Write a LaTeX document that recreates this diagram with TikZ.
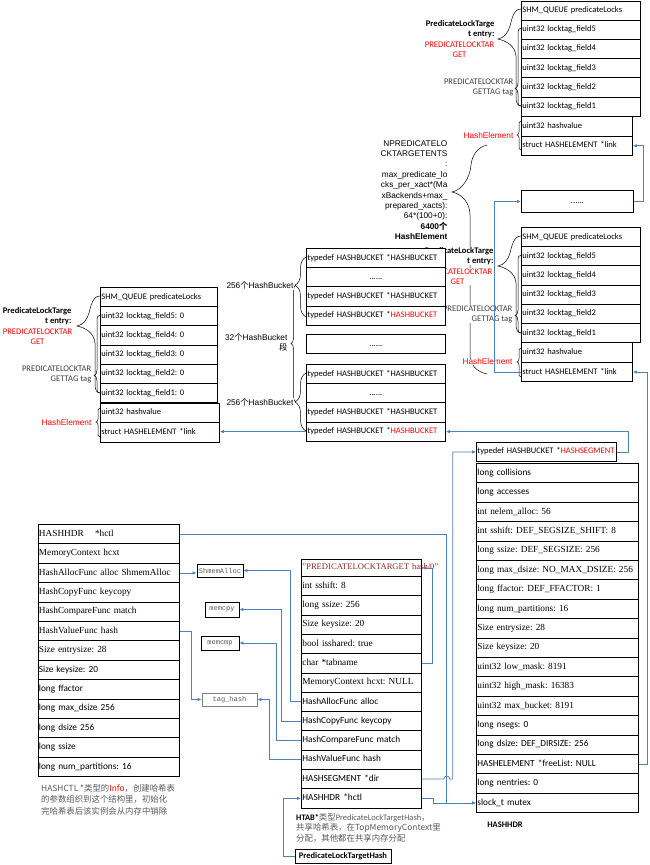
\documentclass[tikz,border=0pt]{standalone}
\usepackage{fontspec}
\setmainfont{Liberation Serif}
\newfontfamily\fcal{Carlito}
\newfontfamily\farial{Liberation Sans}
\newfontfamily\fmono{Liberation Mono}
\newfontfamily\fcjk{Noto Sans CJK SC}
\usetikzlibrary{arrows.meta,decorations.pathreplacing}
\definecolor{lnblue}{RGB}{79,129,189}
\definecolor{darkred}{RGB}{150,40,40}
\definecolor{notegray}{RGB}{90,90,90}
\definecolor{txtgray}{RGB}{64,64,64}
\frenchspacing

% braces beside one PREDICATELOCKTARGET entry, #1 = its top left corner
\newcommand{\entrybraces}[1]{%
  \begin{scope}[shift={#1}]
    \draw[brc] (0,9) .. controls (-7,9) and (-9,18) .. (-11,26)
      .. controls (-13,33) and (-17,38) .. (-23,39)
      .. controls (-14,41) and (-6,46) .. (-5,56) -- (-5,98)
      .. controls (-5,103) and (-3,106) .. (0,106);
    \draw[brc] (0,28) .. controls (-2,28) and (-3,30) .. (-3,34) -- (-3,83)
      .. controls (-3,86) and (-4,88) .. (-6,88.5)
      .. controls (-4,89) and (-3,91) .. (-3,94) -- (-3,102)
      .. controls (-3,105) and (-2,106) .. (0,106);
    \draw[brc] (0,121) .. controls (-2,121) and (-2,123) .. (-2,126) -- (-2,132)
      .. controls (-2,134) and (-3,135) .. (-4,135)
      .. controls (-3,135) and (-2,136) .. (-2,138) -- (-2,145)
      .. controls (-2,148) and (-2,150) .. (0,150);
  \end{scope}}

\begin{document}
\begin{tikzpicture}[x=1pt, y=-1pt,
  cell/.style={draw, fill=white, anchor=north west, inner xsep=1pt, inner ysep=0pt, align=left,
    line width=0.8pt, font=\fcal\fontsize{8.5}{10}\selectfont, text height=6pt, text depth=2pt},
  rowa/.style={cell, text width=117pt, minimum height=19.2pt},
  hsha/.style={cell, text width=109pt, minimum height=19.6pt},
  rowc/.style={cell, text width=115pt, minimum height=19.2pt},
  hshc/.style={cell, text width=117pt, minimum height=19.6pt},
  bkt/.style={cell, text width=137pt, minimum height=19.2pt},
  hdr/.style={cell, text width=160pt, minimum height=19.4pt},
  ctl/.style={cell, text width=139.5pt, minimum height=19.4pt},
  tab/.style={cell, text width=118pt, minimum height=19.3pt},
  tm/.style={font=\fontsize{9.3}{11}\selectfont, text height=6.6pt, text depth=2.2pt},
  cb/.style={font=\fcal\fontsize{9.3}{11}\selectfont, text height=6.6pt, text depth=2.2pt},
  fn/.style={draw, fill=white, inner sep=0pt, line width=0.7pt, text=notegray, font=\fmono\fontsize{7}{8}\selectfont},
  lbl/.style={fill=white, inner sep=0.4pt, font=\fcal\fontsize{8.6}{9.6}\selectfont},
  brc/.style={draw, line width=0.5pt},
  arr/.style={draw=lnblue, line width=0.8pt, -{Latex[length=4pt,width=3.5pt]}}
]
\fill[white, use as bounding box] (0,0) rectangle (650,865);

% braces
\entrybraces{(521,0)}
\entrybraces{(521,227)}
\entrybraces{(100,287)}
\draw[brc, decorate, decoration={brace, amplitude=11pt, aspect=0.53}] (306,317) -- (306,257);
\draw[brc, decorate, decoration={brace, amplitude=11pt, aspect=0.5}] (306,431) -- (306,373);
\draw[brc, decorate, decoration={brace, amplitude=5pt, aspect=0.5}] (296,402) -- (296,285);
\draw[brc] (487,145) .. controls (478,147) and (472,155) .. (471,165)
  .. controls (470,178) and (462,190) .. (452,192)
  .. controls (462,194) and (470,203) .. (470,215) -- (470,355)
  .. controls (470,365) and (477,372) .. (487,374);

% labels
\node[lbl, font=\fcal\bfseries\fontsize{8.6}{9.6}\selectfont, align=right, anchor=east] (ta) at (495,29) {PredicateLockTarge\\t entry:};
\node[lbl, text=red, align=center] (tga) at (459.5,49.5) {PREDICATELOCKTAR\\GET};
\node[lbl, text=txtgray, align=right, anchor=east] (tka) at (514,87.5) {PREDICATELOCKTAR\\GETTAG tag};
\node[lbl, text=red, font=\farial\fontsize{8.3}{10}\selectfont, anchor=east] (hea) at (514,135.5) {HashElement};

\node[lbl, font=\fcal\bfseries\fontsize{8.6}{9.6}\selectfont, align=right, anchor=east] (tb) at (494,256) {PredicateLockTarge\\t entry:};
\node[lbl, text=red, align=center] (tgb) at (457.5,276.5) {PREDICATELOCKTAR\\GET};
\node[lbl, text=txtgray, align=right, anchor=east] (tkb) at (513,314.5) {PREDICATELOCKTAR\\GETTAG tag};
\node[lbl, text=red, font=\farial\fontsize{8.3}{10}\selectfont, anchor=east] (heb) at (513,362) {HashElement};

\node[lbl, font=\fcal\bfseries\fontsize{8.6}{9.6}\selectfont, align=right, anchor=east] (tc) at (72,316) {PredicateLockTarge\\t entry:};
\node[lbl, text=red, align=center] (tgc) at (37.5,336.5) {PREDICATELOCKTAR\\GET};
\node[lbl, text=txtgray, align=right, anchor=east] (tkc) at (92,374.5) {PREDICATELOCKTAR\\GETTAG tag};
\node[lbl, text=red, font=\farial\fontsize{8.3}{10}\selectfont, anchor=east] (hec) at (92,422.5) {HashElement};

\node[lbl, font=\farial\fontsize{8.3}{10.4}\selectfont, align=right, anchor=east] (npred) at (448,190) {NPREDICATELO\\CKTARGETENTS\\:\\max\_predicate\_lo\\cks\_per\_xact*(Ma\\xBackends+max\_\\prepared\_xacts):\\64*(100+0):\\\textbf{6400{\fcjk 个}}\\\textbf{HashElement}};
\node[lbl, font=\farial\fontsize{8.3}{10}\selectfont, anchor=east] (nb1) at (294,285.5) {256{\fcjk 个}HashBucket};
\node[lbl, font=\farial\fontsize{8.3}{10}\selectfont, anchor=east] (nb2) at (294,402.5) {256{\fcjk 个}HashBucket};
\node[lbl, font=\farial\fontsize{8.3}{10.5}\selectfont, align=right, anchor=east] (nseg) at (288,342.5) {32{\fcjk 个}HashBucket\\{\fcjk 段}};

% PREDICATELOCKTARGET entries
\node[rowa] (a1) at (521,0.5) {SHM\_QUEUE predicateLocks};
\node[rowa] (a2) at (521,19.7) {uint32 locktag\_field5};
\node[rowa] (a3) at (521,38.9) {uint32 locktag\_field4};
\node[rowa] (a4) at (521,58.1) {uint32 locktag\_field3};
\node[rowa] (a5) at (521,77.3) {uint32 locktag\_field2};
\node[rowa] (a6) at (521,96.5) {uint32 locktag\_field1};
\node[hsha] (a7) at (521,116) {uint32 hashvalue};
\node[hsha] (a8) at (521,135.6) {struct HASHELEMENT *link};

\node[cell, text width=110pt, minimum height=22pt, align=center] (dots) at (521,190) {......};

\node[rowa] (b1) at (521,227) {SHM\_QUEUE predicateLocks};
\node[rowa] (b2) at (521,246.2) {uint32 locktag\_field5};
\node[rowa] (b3) at (521,265.4) {uint32 locktag\_field4};
\node[rowa] (b4) at (521,284.6) {uint32 locktag\_field3};
\node[rowa] (b5) at (521,303.8) {uint32 locktag\_field2};
\node[rowa] (b6) at (521,323) {uint32 locktag\_field1};
\node[hsha] (b7) at (521,342.2) {uint32 hashvalue};
\node[hsha] (b8) at (521,361.8) {struct HASHELEMENT *link};

\node[rowc] (c1) at (100,287) {SHM\_QUEUE predicateLocks};
\node[rowc] (c2) at (100,306.2) {uint32 locktag\_field5: 0};
\node[rowc] (c3) at (100,325.4) {uint32 locktag\_field4: 0};
\node[rowc] (c4) at (100,344.6) {uint32 locktag\_field3: 0};
\node[rowc] (c5) at (100,363.8) {uint32 locktag\_field2: 0};
\node[rowc] (c6) at (100,383) {uint32 locktag\_field1: 0};
\node[hshc] (c7) at (100,402.5) {uint32 hashvalue};
\node[hshc] (c8) at (100,422.1) {struct HASHELEMENT *link};

% bucket segments
\node[bkt] (d1) at (306,248) {typedef HASHBUCKET *HASHBUCKET};
\node[bkt, align=center] (d2) at (306,267.2) {......};
\node[bkt] (d3) at (306,286.4) {typedef HASHBUCKET *HASHBUCKET};
\node[bkt] (d4) at (306,305.6) {typedef HASHBUCKET *\textcolor{red}{HASHBUCKET}};
\node[bkt, align=center] (dm) at (306,334) {......};
\node[bkt] (d5) at (306,364) {typedef HASHBUCKET *HASHBUCKET};
\node[bkt, align=center] (d6) at (306,383.2) {......};
\node[bkt] (d7) at (306,402.4) {typedef HASHBUCKET *HASHBUCKET};
\node[bkt] (d8) at (306,421.6) {typedef HASHBUCKET *\textcolor{red}{HASHBUCKET}};

% HASHHDR
\node[cell, text width=138pt, minimum height=19pt] (hs) at (476,442) {typedef HASHBUCKET *\textcolor{red}{HASHSEGMENT}};
\node[hdr, cb] (e1) at (476,463) {long collisions};
\node[hdr, cb] (e2) at (476,482.4) {long accesses};
\node[hdr, tm] (e3) at (476,501.8) {int nelem\_alloc: 56};
\node[hdr, tm] (e4) at (476,521.2) {int sshift: DEF\_SEGSIZE\_SHIFT: 8};
\node[hdr, tm] (e5) at (476,540.6) {long ssize: DEF\_SEGSIZE: 256};
\node[hdr, tm] (e6) at (476,560) {long max\_dsize: NO\_MAX\_DSIZE: 256};
\node[hdr, tm] (e7) at (476,579.4) {long ffactor: DEF\_FFACTOR: 1};
\node[hdr, tm] (e8) at (476,598.8) {long num\_partitions: 16};
\node[hdr, tm] (e9) at (476,618.2) {Size entrysize: 28};
\node[hdr, tm] (e10) at (476,637.6) {Size keysize: 20};
\node[hdr, tm] (e11) at (476,657) {uint32 low\_mask: 8191};
\node[hdr, tm] (e12) at (476,676.4) {uint32 high\_mask: 16383};
\node[hdr, tm] (e13) at (476,695.8) {uint32 max\_bucket: 8191};
\node[hdr, cb] (e14) at (476,715.2) {long nsegs: 0};
\node[hdr, cb] (e15) at (476,734.6) {long dsize: DEF\_DIRSIZE: 256};
\node[hdr, cb] (e16) at (476,754) {HASHELEMENT *freeList: NULL};
\node[hdr, cb] (e17) at (476,773.4) {long nentries: 0};
\node[hdr, cb] (e18) at (476,792.8) {slock\_t mutex};
\node[font=\fcal\bfseries\fontsize{8.5}{10}\selectfont] (hdrname) at (505,825) {HASHHDR};

% HASHCTL info
\node[ctl, tm] (f1) at (37.5,524) {HASHHDR\hspace{1.2em}*hctl};
\node[ctl, tm] (f2) at (37.5,543.4) {MemoryContext hcxt};
\node[ctl, tm] (f3) at (37.5,562.8) {HashAllocFunc alloc ShmemAlloc};
\node[ctl, tm] (f4) at (37.5,582.2) {HashCopyFunc keycopy};
\node[ctl, tm] (f5) at (37.5,601.6) {HashCompareFunc match};
\node[ctl, tm] (f6) at (37.5,621) {HashValueFunc hash};
\node[ctl, tm] (f7) at (37.5,640.4) {Size entrysize: 28};
\node[ctl, cb] (f8) at (37.5,659.8) {Size keysize: 20};
\node[ctl, cb] (f9) at (37.5,679.2) {long ffactor};
\node[ctl, cb] (f10) at (37.5,698.6) {long max\_dsize 256};
\node[ctl, cb] (f11) at (37.5,718) {long dsize 256};
\node[ctl, cb] (f12) at (37.5,737.4) {long ssize};
\node[ctl, cb] (f13) at (37.5,756.8) {long num\_partitions: 16};
\node[anchor=north west, inner sep=0pt, align=left, text=notegray, font=\fcjk\fontsize{8.4}{11.6}\selectfont] (ctlnote) at (41,784) {HASHCTL *类型的\textcolor{red}{Info}，创建哈希表\\的参数组织到这个结构里，初始化\\完哈希表后该实例会从内存中销除};

% functions
\node[fn, minimum width=46pt, minimum height=13pt] (shmem) at (220,570.5) {ShmemAlloc};
\node[fn, minimum width=34pt, minimum height=15pt] (memcpy) at (222,609.5) {memcpy};
\node[fn, minimum width=38pt, minimum height=14pt] (memcmp) at (220,643) {memcmp};
\node[fn, draw=gray, minimum width=55pt, minimum height=13pt] (taghash) at (229.5,699.5) {tag\_hash};

% HTAB
\node[tab, minimum height=17pt, font=\fontsize{8.6}{9}\selectfont] (g1) at (301,559) {\mbox{\textcolor{darkred}{"PREDICATELOCKTARGET hash}\textcolor{red}{/0"}}};
\node[tab, tm] (g2) at (301,576) {int sshift: 8};
\node[tab, tm] (g3) at (301,595.3) {long ssize: 256};
\node[tab, tm] (g4) at (301,614.6) {Size keysize: 20};
\node[tab, tm] (g5) at (301,633.9) {bool isshared: true};
\node[tab, tm] (g6) at (301,653.2) {char *tabname};
\node[tab, tm] (g7) at (301,672.5) {MemoryContext hcxt: NULL};
\node[tab, cb] (g8) at (301,691.8) {HashAllocFunc alloc};
\node[tab, cb] (g9) at (301,711.1) {HashCopyFunc keycopy};
\node[tab, cb] (g10) at (301,730.4) {HashCompareFunc match};
\node[tab, cb] (g11) at (301,749.7) {HashValueFunc hash};
\node[tab, cb] (g12) at (301,769) {HASHSEGMENT *dir};
\node[tab, cb] (g13) at (301,788.3) {HASHHDR *hctl};
\node[anchor=north west, inner sep=0pt, align=left, text=notegray, font=\fcjk\fontsize{8.4}{10.5}\selectfont] (htabnote) at (296,813) {{\fcal\bfseries\color{black}HTAB*}类型{\fcal PredicateLockTargetHash}，\\共享哈希表，在TopMemoryContext里\\分配，其他都在共享内存分配};
\node[draw, line width=0.7pt, minimum width=96pt, minimum height=14pt, inner sep=1pt, font=\fcal\bfseries\fontsize{8.5}{10}\selectfont] (plth) at (343,856) {PredicateLockTargetHash};

% links
\draw[arr] (dots.east) -- ++(10,0) |- (a8.east);
\draw[arr] (b8.west) -- ++(-27,0) |- (dots.west);
\draw[arr] (e16.east) -- ++(9,0) |- (b8.east);
\draw[arr] (hs.east) -- ++(12,0) |- (d8.east);
\draw[arr] (d8.west) -- (d8.west -| c8.east);
\draw[arr] (f3.east) -- (f3.east -| shmem.west);
\draw[arr] (f6.east) -- ++(12,0) |- (taghash.west);
\draw[arr] (f1.east) -- ++(267,0) |- (e18.west);
\draw[arr] (g13.east) -- ++(12,0) |- (e18.west);
\draw[arr] (g12.east) -- ++(22,0) arc[start angle=180, end angle=0, radius=3pt] -- ++(3,0) |- (hs.west);
\draw[arr] (g6.east) -- ++(11,0) |- (g1.east);
\draw[arr] (g8.west) -- ++(-11,0) |- (shmem.east);
\draw[arr] (g9.west) -- ++(-20,0) |- (memcpy.east);
\draw[arr] (g10.west) -- ++(-25,0) |- (memcmp.east);
\draw[arr] (g11.west) -- ++(-32,0) |- (taghash.east);
\draw[arr] (plth.west) -- ++(-11,0) |- (g13.west);
\end{tikzpicture}
\end{document}
